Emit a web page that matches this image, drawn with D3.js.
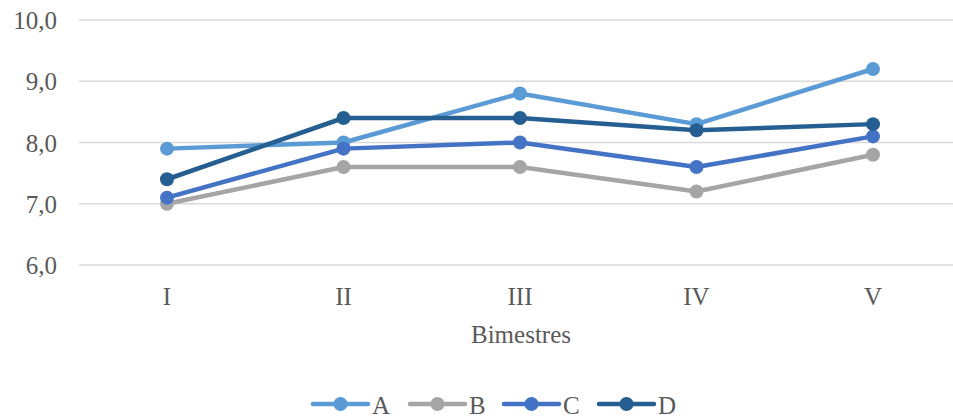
<!DOCTYPE html>
<html><head><meta charset="utf-8">
<script src="https://cdn.jsdelivr.net/npm/d3@7"></script>
<style>body{margin:0;background:#fff}svg{display:block}text{font-family:"Liberation Serif","Times New Roman",serif;fill:#595959}</style>
</head><body><svg id="c" width="953" height="420"></svg>
<script>
const categories = ["I","II","III","IV","V"];
const seriesNames = ["A","B","C","D"];
const valuesA = [7.9, 8.0, 8.8, 8.3, 9.2];
const valuesB = [7.0, 7.6, 7.6, 7.2, 7.8];
const valuesC = [7.1, 7.9, 8.0, 7.6, 8.1];
const valuesD = [7.4, 8.4, 8.4, 8.2, 8.3];
const yTicks = [6,7,8,9,10];
const colors = ["#5B9BD5","#A5A5A5","#4472C4","#255E91"];
const allValues = [valuesA, valuesB, valuesC, valuesD];

const svg = d3.select("#c");
const x = d3.scalePoint().domain(categories).range([167, 873]);
const y = d3.scaleLinear().domain([6,10]).range([265, 20]);
const fmt = d => d3.format(".1f")(d).replace(".", ",");
const fs = 25;

// gridlines
svg.append("g").selectAll("line").data(yTicks).join("line")
  .attr("x1", 79).attr("x2", 953)
  .attr("y1", d => y(d)).attr("y2", d => y(d))
  .attr("stroke", "#D9D9D9").attr("stroke-width", 1.5);

// y labels
svg.append("g").selectAll("text").data(yTicks).join("text")
  .attr("x", 57).attr("y", d => y(d) + 9)
  .attr("text-anchor", "end").attr("font-size", fs)
  .text(fmt);

// x labels
svg.append("g").selectAll("text").data(categories).join("text")
  .attr("x", d => x(d)).attr("y", 305)
  .attr("text-anchor", "middle").attr("font-size", fs)
  .text(d => d);

svg.append("text").attr("x", 521).attr("y", 343)
  .attr("text-anchor", "middle").attr("font-size", fs).text("Bimestres");

const line = d3.line().x((d,i) => x(categories[i])).y(d => y(d));
allValues.forEach((vals, s) => {
  const g = svg.append("g");
  g.append("path").datum(vals).attr("d", line)
    .attr("fill", "none").attr("stroke", colors[s]).attr("stroke-width", 4.5)
    .attr("stroke-linejoin", "round").attr("stroke-linecap", "round");
  g.selectAll("circle").data(vals).join("circle")
    .attr("cx", (d,i) => x(categories[i])).attr("cy", d => y(d))
    .attr("r", 7).attr("fill", colors[s]);
});

// legend
const legX = [313, 410, 504, 599];
const lg = svg.append("g");
seriesNames.forEach((n, s) => {
  const g = lg.append("g").attr("transform", `translate(${legX[s]},404)`);
  g.append("line").attr("x1", 0).attr("x2", 55).attr("y1", 0).attr("y2", 0)
    .attr("stroke", colors[s]).attr("stroke-width", 4.5).attr("stroke-linecap", "round");
  g.append("circle").attr("cx", 27.5).attr("cy", 0).attr("r", 7).attr("fill", colors[s]);
  g.append("text").attr("x", 59).attr("y", 10).attr("font-size", fs).text(n);
});
</script></body></html>
